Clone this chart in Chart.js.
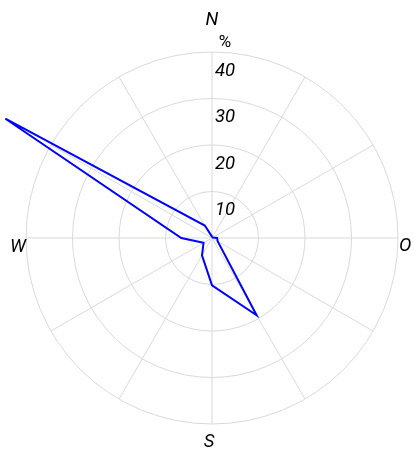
<!DOCTYPE html>
<html lang="en">
<head>
  <meta charset="UTF-8">
  <title>Wind rose</title>
  <script src="https://cdn.jsdelivr.net/npm/chart.js"></script>
  <style>
    html, body {
      margin: 0;
      padding: 0;
      background: #fff;
    }
    #wrap {
      width: 414px;
      height: 454px;
    }
  </style>
</head>
<body>
  <div id="wrap"><canvas id="rose"></canvas></div>

  <script>
    // 12 sectors of 30 degrees, clockwise from north
    const directions = ['N', '', '', 'O', '', '', 'S', '', '', 'W', '', ''];
    // frequency per sector (%)
    const frequency = [0.3, 0.2, 0.2, 1.1, 1.4, 19.2, 10.2, 4.3, 2.1, 6.6, 51.3, 3.1];
    const tickValues = [10, 20, 30, 40];
    const unitLabel = '%';

    // tick numbers, unit and compass letters drawn from the r scale geometry
    const roseLabels = {
      id: 'roseLabels',
      afterDraw(chart) {
        const r = chart.scales.r;
        const ctx = chart.ctx;
        const xc = r.xCenter, yc = r.yCenter, R = r.drawingArea;
        ctx.save();
        ctx.fillStyle = '#000';

        // ring values, just right of the north axis, below each ring
        ctx.font = 'italic 18.5px Roboto';
        ctx.textAlign = 'left';
        ctx.textBaseline = 'middle';
        tickValues.forEach(v => {
          const y = yc - r.getDistanceFromCenterForValue(v);
          ctx.fillText(String(v), xc + 3, y + 19);
        });

        // unit above the outer ring
        ctx.font = '17px Roboto';
        ctx.textAlign = 'center';
        ctx.fillText(unitLabel, xc + 13, yc - R - 9);

        // compass letters
        ctx.font = 'italic 18.5px Roboto';
        ctx.textBaseline = 'alphabetic';
        directions.forEach((label, i) => {
          if (!label) return;
          const p = r.getPointPosition(i, R);
          if (i === 0) {
            ctx.textAlign = 'center';
            ctx.fillText(label, p.x, p.y - 27);
          } else if (i === 3) {
            ctx.textAlign = 'left';
            ctx.fillText(label, p.x + 1, p.y + 12.7);
          } else if (i === 6) {
            ctx.textAlign = 'center';
            ctx.fillText(label, p.x - 3, p.y + 23);
          } else if (i === 9) {
            ctx.textAlign = 'right';
            ctx.fillText(label, p.x, p.y + 13.5);
          }
        });
        ctx.restore();
      }
    };

    const ctxRose = document.getElementById('rose').getContext('2d');

    const roseChart = new Chart(ctxRose, {
      type: 'radar',
      data: {
        labels: directions,
        datasets: [{
          data: frequency,
          borderColor: '#0000ff',
          backgroundColor: 'rgba(0,0,0,0)',
          borderWidth: 2,
          fill: false,
          pointRadius: 0,
          pointHoverRadius: 0,
          tension: 0,
          clip: false
        }]
      },
      options: {
        responsive: true,
        maintainAspectRatio: false,
        animation: false,
        layout: {
          padding: { left: 26, right: 16, top: 52, bottom: 30 }
        },
        plugins: {
          legend: { display: false },
          tooltip: { enabled: false }
        },
        scales: {
          r: {
            min: 0,
            max: 40,
            startAngle: 0,
            ticks: { display: false, stepSize: 10 },
            grid: { circular: true, color: '#d9d9d9', lineWidth: 1 },
            angleLines: { color: '#d9d9d9', lineWidth: 1 },
            pointLabels: { display: false }
          }
        }
      },
      plugins: [roseLabels]
    });
  </script>
</body>
</html>
